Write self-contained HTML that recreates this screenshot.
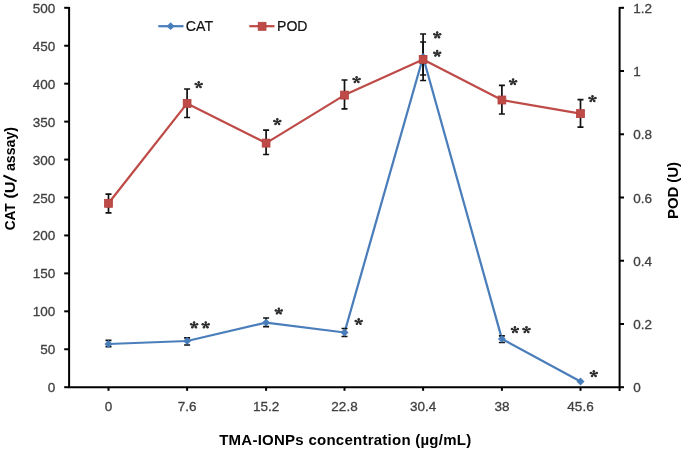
<!DOCTYPE html><html><head><meta charset="utf-8"><style>html,body{margin:0;padding:0;background:#fff;}svg{display:block;will-change:transform;filter:blur(0.35px);}</style></head><body>
<svg width="685" height="451" viewBox="0 0 685 451" style="font-family:'Liberation Sans', sans-serif">
<rect width="685" height="451" fill="#fff"/>
<g stroke="#000" stroke-width="2" fill="none">
<path d="M69.1 6.9 V388.1"/>
<path d="M619.6 6.9 V391.0"/>
<path d="M68.2 387.2 H619.6"/>
<path d="M64.2 387.20 H69.1"/>
<path d="M64.2 349.26 H69.1"/>
<path d="M64.2 311.32 H69.1"/>
<path d="M64.2 273.38 H69.1"/>
<path d="M64.2 235.44 H69.1"/>
<path d="M64.2 197.50 H69.1"/>
<path d="M64.2 159.56 H69.1"/>
<path d="M64.2 121.62 H69.1"/>
<path d="M64.2 83.68 H69.1"/>
<path d="M64.2 45.74 H69.1"/>
<path d="M64.2 7.80 H69.1"/>
<path d="M619.6 387.20 H624"/>
<path d="M619.6 323.97 H624"/>
<path d="M619.6 260.73 H624"/>
<path d="M619.6 197.50 H624"/>
<path d="M619.6 134.27 H624"/>
<path d="M619.6 71.03 H624"/>
<path d="M619.6 7.80 H624"/>
<path d="M108.5 387.2 V390.8"/>
<path d="M187.1 387.2 V390.8"/>
<path d="M266.1 387.2 V390.8"/>
<path d="M344.5 387.2 V390.8"/>
<path d="M423.1 387.2 V390.8"/>
<path d="M501.9 387.2 V390.8"/>
<path d="M580.5 387.2 V390.8"/>
</g>
<g font-size="13.5" fill="#404040" stroke="#404040" stroke-width="0.3">
<text x="55.3" y="392.2" text-anchor="end">0</text>
<text x="55.3" y="354.3" text-anchor="end">50</text>
<text x="55.3" y="316.3" text-anchor="end">100</text>
<text x="55.3" y="278.4" text-anchor="end">150</text>
<text x="55.3" y="240.4" text-anchor="end">200</text>
<text x="55.3" y="202.5" text-anchor="end">250</text>
<text x="55.3" y="164.6" text-anchor="end">300</text>
<text x="55.3" y="126.6" text-anchor="end">350</text>
<text x="55.3" y="88.7" text-anchor="end">400</text>
<text x="55.3" y="50.7" text-anchor="end">450</text>
<text x="55.3" y="12.8" text-anchor="end">500</text>
<text x="633.2" y="392.2">0</text>
<text x="633.2" y="329.0">0.2</text>
<text x="633.2" y="265.7">0.4</text>
<text x="633.2" y="202.5">0.6</text>
<text x="633.2" y="139.3">0.8</text>
<text x="633.2" y="76.0">1</text>
<text x="633.2" y="12.8">1.2</text>
<text x="108.5" y="411.2" text-anchor="middle">0</text>
<text x="187.1" y="411.2" text-anchor="middle">7.6</text>
<text x="266.1" y="411.2" text-anchor="middle">15.2</text>
<text x="344.5" y="411.2" text-anchor="middle">22.8</text>
<text x="423.1" y="411.2" text-anchor="middle">30.4</text>
<text x="501.9" y="411.2" text-anchor="middle">38</text>
<text x="580.5" y="411.2" text-anchor="middle">45.6</text>
</g>
<g font-size="15" font-weight="bold" fill="#000">
<text x="219.2" y="444.5" textLength="252" lengthAdjust="spacing">TMA-IONPs concentration (µg/mL)</text>
<text transform="translate(14.9,230.3) rotate(-90)" textLength="27.0" lengthAdjust="spacingAndGlyphs">CAT</text>
<text transform="translate(14.9,198.6) rotate(-90)" textLength="17.2" lengthAdjust="spacingAndGlyphs">(U</text>
<path d="M3.4 175.5 L16.6 181.3" stroke="#000" stroke-width="2"/>
<text transform="translate(14.9,171.0) rotate(-90)" textLength="44.0" lengthAdjust="spacingAndGlyphs">assay)</text>
<text transform="translate(678.3,219) rotate(-90)" textLength="57" lengthAdjust="spacing">POD (U)</text>
</g>
<polyline points="108.5,203.3 187.1,103.4 266.1,143.1 344.5,95.1 423.1,59.4 501.9,100.0 580.5,113.6" fill="none" stroke="#BE4B48" stroke-width="2.25" stroke-linejoin="round"/>
<polyline points="108.5,344.0 187.1,341.0 266.1,322.6 344.5,332.5 423.1,57.0 501.9,338.9 580.5,381.5" fill="none" stroke="#4A7EBB" stroke-width="2.25" stroke-linejoin="round"/>
<g stroke="#111" stroke-width="1.7" fill="none">
<path d="M108.5 340.4 V346.6 M105.5 340.4 h6 M105.5 346.6 h6"/>
<path d="M187.1 337.9 V345.0 M184.1 337.9 h6 M184.1 345.0 h6"/>
<path d="M266.1 318.0 V326.6 M263.1 318.0 h6 M263.1 326.6 h6"/>
<path d="M344.5 328.5 V336.5 M341.5 328.5 h6 M341.5 336.5 h6"/>
<path d="M423.1 34.0 V80.5 M420.1 34.0 h6 M420.1 80.5 h6"/>
<path d="M501.9 335.8 V342.5 M498.9 335.8 h6 M498.9 342.5 h6"/>
<path d="M108.5 194.2 V212.8 M105.5 194.2 h6 M105.5 212.8 h6"/>
<path d="M187.1 89.0 V117.5 M184.1 89.0 h6 M184.1 117.5 h6"/>
<path d="M266.1 130.2 V154.5 M263.1 130.2 h6 M263.1 154.5 h6"/>
<path d="M344.5 80.0 V108.9 M341.5 80.0 h6 M341.5 108.9 h6"/>
<path d="M423.1 42.0 V75.0 M420.1 42.0 h6 M420.1 75.0 h6"/>
<path d="M501.9 85.3 V114.0 M498.9 85.3 h6 M498.9 114.0 h6"/>
<path d="M580.5 99.7 V127.1 M577.5 99.7 h6 M577.5 127.1 h6"/>
</g>
<path d="M108.5 340.1 l4.0 3.9 l-4.0 3.9 l-4.0 -3.9z" fill="#4A7EBB"/>
<path d="M187.1 337.1 l4.0 3.9 l-4.0 3.9 l-4.0 -3.9z" fill="#4A7EBB"/>
<path d="M266.1 318.7 l4.0 3.9 l-4.0 3.9 l-4.0 -3.9z" fill="#4A7EBB"/>
<path d="M344.5 328.6 l4.0 3.9 l-4.0 3.9 l-4.0 -3.9z" fill="#4A7EBB"/>
<path d="M423.1 53.1 l4.0 3.9 l-4.0 3.9 l-4.0 -3.9z" fill="#4A7EBB"/>
<path d="M501.9 335.0 l4.0 3.9 l-4.0 3.9 l-4.0 -3.9z" fill="#4A7EBB"/>
<path d="M580.5 377.6 l4.0 3.9 l-4.0 3.9 l-4.0 -3.9z" fill="#4A7EBB"/>
<rect x="104.6" y="199.3" width="7.8" height="8.0" fill="#BE4B48" stroke="#B3403D" stroke-width="0.8"/>
<rect x="183.2" y="99.4" width="7.8" height="8.0" fill="#BE4B48" stroke="#B3403D" stroke-width="0.8"/>
<rect x="262.2" y="139.1" width="7.8" height="8.0" fill="#BE4B48" stroke="#B3403D" stroke-width="0.8"/>
<rect x="340.6" y="91.1" width="7.8" height="8.0" fill="#BE4B48" stroke="#B3403D" stroke-width="0.8"/>
<rect x="419.2" y="55.4" width="7.8" height="8.0" fill="#BE4B48" stroke="#B3403D" stroke-width="0.8"/>
<rect x="498.0" y="96.0" width="7.8" height="8.0" fill="#BE4B48" stroke="#B3403D" stroke-width="0.8"/>
<rect x="576.6" y="109.6" width="7.8" height="8.0" fill="#BE4B48" stroke="#B3403D" stroke-width="0.8"/>
<g fill="#303030"><path d="M198.70 84.90 l0.00 -2.79 M198.70 84.90 l3.24 -0.85 M198.70 84.90 l-3.24 -0.85 M198.70 84.90 l1.98 2.25 M198.70 84.90 l-1.98 2.25 M277.30 121.90 l0.00 -2.79 M277.30 121.90 l3.24 -0.85 M277.30 121.90 l-3.24 -0.85 M277.30 121.90 l1.98 2.25 M277.30 121.90 l-1.98 2.25 M356.60 79.90 l0.00 -2.79 M356.60 79.90 l3.24 -0.85 M356.60 79.90 l-3.24 -0.85 M356.60 79.90 l1.98 2.25 M356.60 79.90 l-1.98 2.25 M437.20 35.10 l0.00 -2.79 M437.20 35.10 l3.24 -0.85 M437.20 35.10 l-3.24 -0.85 M437.20 35.10 l1.98 2.25 M437.20 35.10 l-1.98 2.25 M437.20 53.50 l0.00 -2.79 M437.20 53.50 l3.24 -0.85 M437.20 53.50 l-3.24 -0.85 M437.20 53.50 l1.98 2.25 M437.20 53.50 l-1.98 2.25 M513.10 82.00 l0.00 -2.79 M513.10 82.00 l3.24 -0.85 M513.10 82.00 l-3.24 -0.85 M513.10 82.00 l1.98 2.25 M513.10 82.00 l-1.98 2.25 M592.50 98.90 l0.00 -2.79 M592.50 98.90 l3.24 -0.85 M592.50 98.90 l-3.24 -0.85 M592.50 98.90 l1.98 2.25 M592.50 98.90 l-1.98 2.25 M194.10 325.10 l0.00 -2.79 M194.10 325.10 l3.24 -0.85 M194.10 325.10 l-3.24 -0.85 M194.10 325.10 l1.98 2.25 M194.10 325.10 l-1.98 2.25 M205.70 325.10 l0.00 -2.79 M205.70 325.10 l3.24 -0.85 M205.70 325.10 l-3.24 -0.85 M205.70 325.10 l1.98 2.25 M205.70 325.10 l-1.98 2.25 M278.80 311.20 l0.00 -2.79 M278.80 311.20 l3.24 -0.85 M278.80 311.20 l-3.24 -0.85 M278.80 311.20 l1.98 2.25 M278.80 311.20 l-1.98 2.25 M358.70 321.80 l0.00 -2.79 M358.70 321.80 l3.24 -0.85 M358.70 321.80 l-3.24 -0.85 M358.70 321.80 l1.98 2.25 M358.70 321.80 l-1.98 2.25 M514.90 329.90 l0.00 -2.79 M514.90 329.90 l3.24 -0.85 M514.90 329.90 l-3.24 -0.85 M514.90 329.90 l1.98 2.25 M514.90 329.90 l-1.98 2.25 M526.50 329.90 l0.00 -2.79 M526.50 329.90 l3.24 -0.85 M526.50 329.90 l-3.24 -0.85 M526.50 329.90 l1.98 2.25 M526.50 329.90 l-1.98 2.25 M593.80 373.90 l0.00 -2.79 M593.80 373.90 l3.24 -0.85 M593.80 373.90 l-3.24 -0.85 M593.80 373.90 l1.98 2.25 M593.80 373.90 l-1.98 2.25 " stroke="#303030" stroke-width="1.5" stroke-linecap="round" fill="none"/><circle cx="198.70" cy="82.36" r="1.25"/><circle cx="201.65" cy="84.12" r="1.25"/><circle cx="195.75" cy="84.12" r="1.25"/><circle cx="200.50" cy="86.95" r="1.25"/><circle cx="196.90" cy="86.95" r="1.25"/><circle cx="277.30" cy="119.36" r="1.25"/><circle cx="280.25" cy="121.12" r="1.25"/><circle cx="274.35" cy="121.12" r="1.25"/><circle cx="279.10" cy="123.95" r="1.25"/><circle cx="275.50" cy="123.95" r="1.25"/><circle cx="356.60" cy="77.36" r="1.25"/><circle cx="359.55" cy="79.12" r="1.25"/><circle cx="353.65" cy="79.12" r="1.25"/><circle cx="358.40" cy="81.95" r="1.25"/><circle cx="354.80" cy="81.95" r="1.25"/><circle cx="437.20" cy="32.56" r="1.25"/><circle cx="440.15" cy="34.32" r="1.25"/><circle cx="434.25" cy="34.32" r="1.25"/><circle cx="439.00" cy="37.15" r="1.25"/><circle cx="435.40" cy="37.15" r="1.25"/><circle cx="437.20" cy="50.96" r="1.25"/><circle cx="440.15" cy="52.72" r="1.25"/><circle cx="434.25" cy="52.72" r="1.25"/><circle cx="439.00" cy="55.55" r="1.25"/><circle cx="435.40" cy="55.55" r="1.25"/><circle cx="513.10" cy="79.46" r="1.25"/><circle cx="516.05" cy="81.22" r="1.25"/><circle cx="510.15" cy="81.22" r="1.25"/><circle cx="514.90" cy="84.05" r="1.25"/><circle cx="511.30" cy="84.05" r="1.25"/><circle cx="592.50" cy="96.36" r="1.25"/><circle cx="595.45" cy="98.12" r="1.25"/><circle cx="589.55" cy="98.12" r="1.25"/><circle cx="594.30" cy="100.95" r="1.25"/><circle cx="590.70" cy="100.95" r="1.25"/><circle cx="194.10" cy="322.56" r="1.25"/><circle cx="197.05" cy="324.32" r="1.25"/><circle cx="191.15" cy="324.32" r="1.25"/><circle cx="195.90" cy="327.15" r="1.25"/><circle cx="192.30" cy="327.15" r="1.25"/><circle cx="205.70" cy="322.56" r="1.25"/><circle cx="208.65" cy="324.32" r="1.25"/><circle cx="202.75" cy="324.32" r="1.25"/><circle cx="207.50" cy="327.15" r="1.25"/><circle cx="203.90" cy="327.15" r="1.25"/><circle cx="278.80" cy="308.66" r="1.25"/><circle cx="281.75" cy="310.42" r="1.25"/><circle cx="275.85" cy="310.42" r="1.25"/><circle cx="280.60" cy="313.25" r="1.25"/><circle cx="277.00" cy="313.25" r="1.25"/><circle cx="358.70" cy="319.26" r="1.25"/><circle cx="361.65" cy="321.02" r="1.25"/><circle cx="355.75" cy="321.02" r="1.25"/><circle cx="360.50" cy="323.85" r="1.25"/><circle cx="356.90" cy="323.85" r="1.25"/><circle cx="514.90" cy="327.36" r="1.25"/><circle cx="517.85" cy="329.12" r="1.25"/><circle cx="511.95" cy="329.12" r="1.25"/><circle cx="516.70" cy="331.95" r="1.25"/><circle cx="513.10" cy="331.95" r="1.25"/><circle cx="526.50" cy="327.36" r="1.25"/><circle cx="529.45" cy="329.12" r="1.25"/><circle cx="523.55" cy="329.12" r="1.25"/><circle cx="528.30" cy="331.95" r="1.25"/><circle cx="524.70" cy="331.95" r="1.25"/><circle cx="593.80" cy="371.36" r="1.25"/><circle cx="596.75" cy="373.12" r="1.25"/><circle cx="590.85" cy="373.12" r="1.25"/><circle cx="595.60" cy="375.95" r="1.25"/><circle cx="592.00" cy="375.95" r="1.25"/></g>
<path d="M158.3 26.2 H183.5" stroke="#4A7EBB" stroke-width="2.25"/>
<path d="M170.6 22.3 l4.0 3.9 l-4.0 3.9 l-4.0 -3.9z" fill="#4A7EBB"/>
<path d="M249.3 26.2 H274.5" stroke="#BE4B48" stroke-width="2.25"/>
<rect x="258.2" y="22.3" width="7.8" height="8.0" fill="#BE4B48" stroke="#B3403D" stroke-width="0.8"/>
<g font-size="15.1" fill="#111" stroke="#111" stroke-width="0.2">
<text x="185.8" y="31.3" textLength="27.3" lengthAdjust="spacingAndGlyphs">CAT</text>
<text x="277.0" y="31.3" textLength="30.5" lengthAdjust="spacingAndGlyphs">POD</text>
</g>
</svg></body></html>
